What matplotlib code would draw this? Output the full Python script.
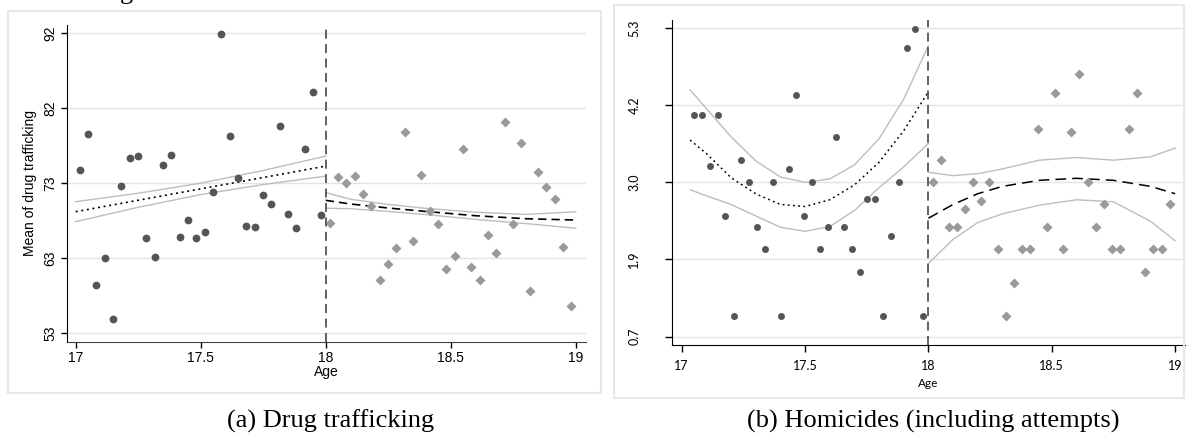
import numpy as np
import matplotlib
matplotlib.use('Agg')
import matplotlib.pyplot as plt
from matplotlib.patches import Rectangle

# ---- (a) drug trafficking: binned means
drug_x_below = [17.017, 17.050, 17.083, 17.117, 17.150, 17.183, 17.217, 17.250, 17.283, 17.317,
                17.350, 17.383, 17.417, 17.450, 17.483, 17.517, 17.550, 17.583, 17.617, 17.650,
                17.683, 17.717, 17.750, 17.783, 17.817, 17.850, 17.883, 17.917, 17.950, 17.983]
drug_y_below = [74.35, 78.87, 59.58, 63.0, 55.27, 72.3, 75.88, 76.1, 65.6, 63.2,
                74.9, 76.26, 65.7, 67.94, 65.6, 66.37, 71.53, 91.7, 78.7, 73.24,
                67.14, 66.96, 71.06, 69.95, 79.93, 68.7, 66.9, 76.99, 84.33, 68.6]
drug_x_above = [18.017, 18.050, 18.083, 18.117, 18.150, 18.183, 18.217, 18.250, 18.283, 18.317,
                18.350, 18.383, 18.417, 18.450, 18.483, 18.517, 18.550, 18.583, 18.617, 18.650,
                18.683, 18.717, 18.750, 18.783, 18.817, 18.850, 18.883, 18.917, 18.950, 18.983]
drug_y_above = [67.56, 73.4, 72.68, 73.58, 71.27, 69.7, 60.18, 62.27, 64.32, 79.17,
                65.18, 73.7, 69.05, 67.39, 61.59, 63.34, 77.03, 61.85, 60.18, 65.94,
                63.68, 80.49, 67.35, 77.76, 58.82, 74.0, 72.09, 70.55, 64.41, 56.86]

# fitted lines and CI
drug_fx_below = [17.0, 17.25, 17.5, 17.75, 18.0]
drug_fit_below = [68.97, 70.43, 71.89, 73.34, 74.8]
drug_up_below = [70.25, 71.33, 72.62, 74.24, 76.08]
drug_lo_below = [67.69, 69.53, 71.16, 72.44, 73.52]
drug_fx_above = [18.0, 18.1, 18.25, 18.4, 18.6, 18.8, 19.0]
drug_fit_above = [70.42, 69.95, 69.44, 69.0, 68.45, 68.07, 67.9]
drug_up_above = [71.42, 70.55, 69.9, 69.4, 68.9, 68.62, 68.95]
drug_lo_above = [69.42, 69.35, 69.0, 68.6, 67.98, 67.45, 66.85]

drug_yticks = [53.4, 63.0, 72.6, 82.2, 91.8]
drug_ylabels = ['53', '63', '73', '82', '92']

# ---- (b) homicides
hom_x_below = [17.051, 17.084, 17.115, 17.146, 17.177, 17.211, 17.242, 17.274, 17.307, 17.338,
               17.369, 17.401, 17.434, 17.465, 17.497, 17.530, 17.562, 17.594, 17.626, 17.658,
               17.690, 17.721, 17.753, 17.785, 17.817, 17.850, 17.881, 17.913, 17.944, 17.977]
hom_y_below = [4.0, 4.0, 3.25, 4.0, 2.5, 1.0, 3.33, 3.0, 2.33, 2.0,
               3.0, 1.0, 3.2, 4.3, 2.5, 3.0, 2.0, 2.33, 3.67, 2.33,
               2.0, 1.67, 2.75, 2.75, 1.0, 2.2, 3.0, 5.0, 5.29, 1.0]
hom_x_above = [18.017, 18.050, 18.082, 18.116, 18.148, 18.182, 18.215, 18.247, 18.281, 18.315,
               18.347, 18.381, 18.413, 18.446, 18.480, 18.512, 18.546, 18.578, 18.612, 18.646,
               18.678, 18.711, 18.744, 18.778, 18.812, 18.846, 18.878, 18.912, 18.946, 18.978]
hom_y_above = [3.0, 3.33, 2.33, 2.33, 2.6, 3.0, 2.72, 3.0, 2.0, 1.0,
               1.5, 2.0, 2.0, 3.8, 2.33, 4.33, 2.0, 3.75, 4.62, 3.0,
               2.33, 2.67, 2.0, 2.0, 3.8, 4.33, 1.67, 2.0, 2.0, 2.67]

hom_fx_below = [17.034, 17.1, 17.2, 17.3, 17.4, 17.5, 17.6, 17.7, 17.8, 17.9, 18.0]
hom_fit_below = [3.63, 3.43, 3.07, 2.83, 2.67, 2.64, 2.74, 2.96, 3.30, 3.77, 4.35]
hom_up_below = [4.38, 4.10, 3.68, 3.32, 3.08, 3.00, 3.05, 3.26, 3.65, 4.24, 5.04]
hom_lo_below = [2.89, 2.80, 2.67, 2.50, 2.33, 2.27, 2.34, 2.58, 2.92, 3.23, 3.58]
hom_fx_above = [18.0, 18.1, 18.2, 18.3, 18.45, 18.6, 18.75, 18.9, 19.0]
hom_fit_above = [2.465, 2.67, 2.83, 2.94, 3.03, 3.06, 3.03, 2.94, 2.83]
hom_up_above = [3.15, 3.10, 3.13, 3.20, 3.33, 3.37, 3.33, 3.38, 3.51]
hom_lo_above = [1.79, 2.15, 2.40, 2.53, 2.66, 2.74, 2.71, 2.42, 2.13]

hom_yticks = [0.7, 1.85, 3.0, 4.15, 5.3]
hom_ylabels = ['0.7', '1.9', '3.0', '4.2', '5.3']

xticks = [17, 17.5, 18, 18.5, 19]
xlabels = ['17', '17.5', '18', '18.5', '19']

dark = '#555555'
light = '#9a9a9a'
ci_col = '#bdbdbd'
grid_col = '#e4e4e4'

fig = plt.figure(figsize=(11.93, 4.36), dpi=100)

# panel frames
fig.patches.append(Rectangle((8/1193, 1-393/436), (601-8)/1193, (393-11)/436, transform=fig.transFigure,
                             fill=False, edgecolor='#e8e8e8', lw=1.5))
fig.patches.append(Rectangle((614/1193, 1-398/436), (1184-614)/1193, (398-5)/436, transform=fig.transFigure,
                             fill=False, edgecolor='#e8e8e8', lw=1.5))

# ---------- left panel
ax1 = fig.add_axes([66.7/1193, 1-341.7/436, 519/1193, 316.7/436])
ax1.set_xlim(16.964, 19.04)
ax1.set_ylim(52.33, 92.86)
for v in drug_yticks:
    ax1.axhline(v, color=grid_col, lw=1.0, zorder=0)
ax1.plot(drug_fx_below, drug_up_below, color=ci_col, lw=1.0)
ax1.plot(drug_fx_below, drug_lo_below, color=ci_col, lw=1.0)
ax1.plot(drug_fx_below, drug_fit_below, color='black', lw=1.2, linestyle=(0, (1.2, 2.2)))
ax1.plot(drug_fx_above, drug_up_above, color=ci_col, lw=1.0)
ax1.plot(drug_fx_above, drug_lo_above, color=ci_col, lw=1.0)
ax1.plot(drug_fx_above, drug_fit_above, color='black', lw=1.2, linestyle=(0, (5, 3)))
ax1.plot(drug_x_below, drug_y_below, 'o', color=dark, ms=5.6, mec='none')
ax1.plot(drug_x_above, drug_y_above, 'D', color=light, ms=5.0, mec='none')
ax1.axvline(18, color=dark, lw=1.3, linestyle=(0, (5, 3)))
for s in ['top', 'right']:
    ax1.spines[s].set_visible(False)
ax1.spines['left'].set_color('black')
ax1.spines['bottom'].set_color('#444444')
ax1.set_xticks(xticks)
ax1.set_xticklabels(xlabels, fontsize=10, family='Liberation Sans')
ax1.set_yticks(drug_yticks)
ax1.set_yticklabels(drug_ylabels, fontsize=10, family='Liberation Sans', rotation=90, va='center')
ax1.tick_params(length=4, width=1, pad=3)
ax1.set_xlabel('Age', fontsize=10, family='Liberation Sans', labelpad=0)
ax1.set_ylabel('Mean of drug trafficking', fontsize=10, family='Liberation Sans', labelpad=4)

# ---------- right panel
ax2 = fig.add_axes([672.3/1193, 1-345/436, 512.7/1193, 325/436])
ax2.set_xlim(16.962, 19.04)
ax2.set_ylim(0.575, 5.42)
for v in hom_yticks:
    ax2.axhline(v, color=grid_col, lw=1.0, zorder=0)
ax2.plot(hom_fx_below, hom_up_below, color=ci_col, lw=1.0)
ax2.plot(hom_fx_below, hom_lo_below, color=ci_col, lw=1.0)
ax2.plot(hom_fx_below, hom_fit_below, color='black', lw=1.1, linestyle=(0, (1.2, 2.2)))
ax2.plot(hom_fx_above, hom_up_above, color=ci_col, lw=1.0)
ax2.plot(hom_fx_above, hom_lo_above, color=ci_col, lw=1.0)
ax2.plot(hom_fx_above, hom_fit_above, color='black', lw=1.1, linestyle=(0, (7, 4)))
ax2.plot(hom_x_below, hom_y_below, 'o', color=dark, ms=5.0, mec='none')
ax2.plot(hom_x_above, hom_y_above, 'D', color=light, ms=4.6, mec='none')
ax2.axvline(18, color=dark, lw=1.3, linestyle=(0, (5, 3)))
for s in ['top', 'right']:
    ax2.spines[s].set_visible(False)
ax2.set_xticks(xticks)
ax2.set_xticklabels(xlabels, fontsize=9, family='Lato')
ax2.set_yticks(hom_yticks)
ax2.set_yticklabels(hom_ylabels, fontsize=9, family='Lato', rotation=90, va='center')
ax2.tick_params(axis='x', length=5, width=1, pad=6)
ax2.tick_params(axis='y', length=5, width=1, pad=18)
ax2.set_xlabel('Age', fontsize=8.5, family='Lato', labelpad=4)

# captions
fig.text(227/1193, 1-428/436, '(a) Drug trafficking', fontsize=19, family='Liberation Serif',
         ha='left', va='baseline')
fig.text(747/1193, 1-428/436, '(b) Homicides (including attempts)', fontsize=19,
         family='Liberation Serif', ha='left', va='baseline')
# cut-off line of text above the figure
fig.text(120/1193, 1+1/436, 'g', fontsize=19, family='Liberation Serif', ha='left', va='baseline')

fig.savefig('out.png', dpi=100)
